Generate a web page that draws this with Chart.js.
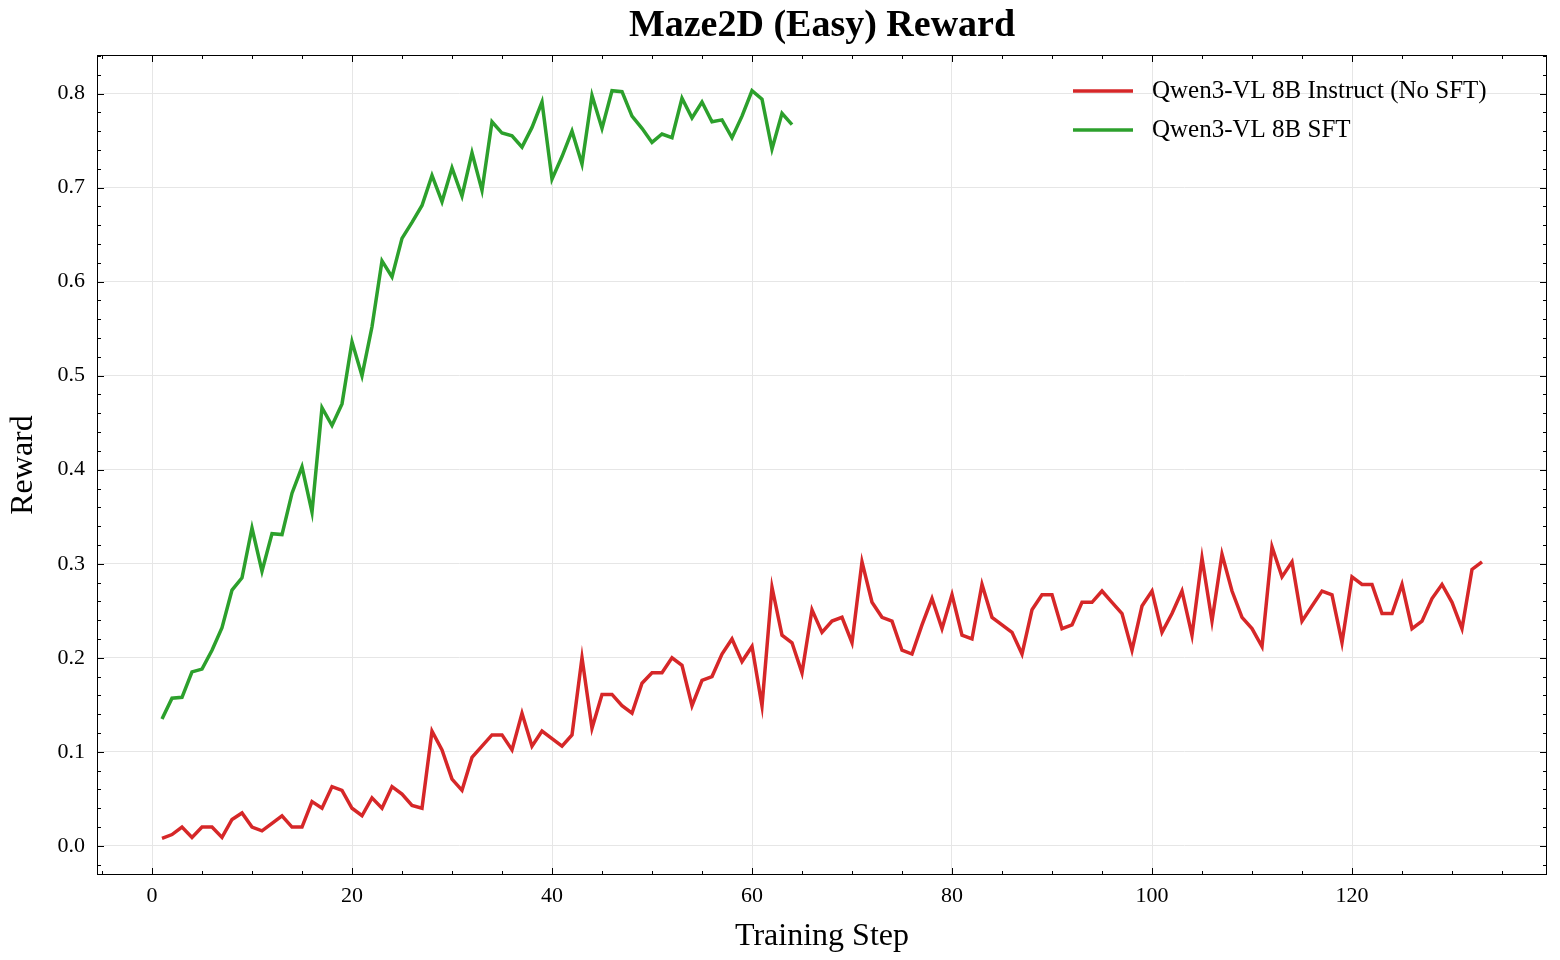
<!DOCTYPE html>
<html><head><meta charset="utf-8">
<script src="https://cdn.jsdelivr.net/npm/chart.js@4"></script>
<style>html,body{margin:0;padding:0;background:#fff}#w{width:1560px;height:960px}</style>
</head><body><div id="w"><canvas id="c"></canvas></div>
<script>
const chartTitle = "Maze2D (Easy) Reward";
const xTitle = "Training Step";
const yTitle = "Reward";
const seriesNames = ["Qwen3-VL 8B Instruct (No SFT)", "Qwen3-VL 8B SFT"];
const noSftReward = [0.008,0.012,0.020,0.009,0.020,0.020,0.009,0.028,0.035,0.020,0.016,0.024,0.032,0.020,0.020,0.047,0.040,0.063,0.059,0.040,0.032,0.051,0.040,0.063,0.055,0.043,0.040,0.122,0.102,0.071,0.059,0.094,0.106,0.118,0.118,0.102,0.141,0.106,0.122,0.114,0.106,0.118,0.200,0.125,0.161,0.161,0.149,0.141,0.173,0.184,0.184,0.200,0.192,0.149,0.176,0.180,0.204,0.220,0.196,0.212,0.149,0.275,0.224,0.216,0.184,0.251,0.227,0.239,0.243,0.216,0.302,0.259,0.243,0.239,0.208,0.204,0.235,0.263,0.231,0.267,0.224,0.220,0.278,0.243,0.235,0.227,0.204,0.251,0.267,0.267,0.231,0.235,0.259,0.259,0.271,0.259,0.247,0.208,0.255,0.271,0.227,0.247,0.271,0.224,0.306,0.239,0.310,0.271,0.243,0.231,0.212,0.318,0.286,0.302,0.239,0.255,0.271,0.267,0.216,0.286,0.278,0.278,0.247,0.247,0.278,0.231,0.239,0.263,0.278,0.259,0.231,0.294,0.302];
const sftReward = [0.135,0.157,0.158,0.185,0.188,0.208,0.232,0.272,0.285,0.338,0.292,0.332,0.331,0.375,0.403,0.355,0.466,0.447,0.470,0.536,0.500,0.552,0.622,0.605,0.646,0.663,0.681,0.713,0.685,0.721,0.691,0.737,0.697,0.770,0.758,0.755,0.743,0.764,0.791,0.709,0.733,0.760,0.725,0.798,0.763,0.803,0.802,0.776,0.763,0.748,0.757,0.753,0.795,0.774,0.791,0.770,0.772,0.753,0.776,0.803,0.794,0.741,0.779,0.767];
const xTickValues = [0,20,40,60,80,100,120];
const yTickValues = [0.0,0.1,0.2,0.3,0.4,0.5,0.6,0.7,0.8];
const colors = ["#d62728","#2ca02c"];
const serif = "'Liberation Serif','DejaVu Serif',serif";

const toPts = arr => arr.map((v,i)=>({x:i+1,y:v}));

const decor = {
  id:'decor',
  afterDraw(ch){
    const c=ch.ctx, a=ch.chartArea, xs=ch.scales.x, ys=ch.scales.y;
    c.save();
    c.strokeStyle='#000'; c.lineWidth=1;
    c.strokeRect(a.left+0.5,a.top+0.5,a.right-a.left-1,a.bottom-a.top-1);
    c.beginPath();
    for(let v=-5;v<=139;v+=5){
      const p=Math.round(xs.getPixelForValue(v))+0.5, L=(v%20===0)?7:4;
      c.moveTo(p,a.bottom);c.lineTo(p,a.bottom-L);
      c.moveTo(p,a.top);c.lineTo(p,a.top+L);
    }
    for(let k=-1;k<=42;k++){
      const v=k*0.02; if(v<ys.min||v>ys.max) continue;
      const p=Math.round(ys.getPixelForValue(v))+0.5, L=(k%5===0)?7:4;
      c.moveTo(a.left,p);c.lineTo(a.left+L,p);
      c.moveTo(a.right,p);c.lineTo(a.right-L,p);
    }
    c.stroke();
    c.fillStyle='#000'; c.font='bold 38px '+serif; c.textAlign='center'; c.textBaseline='middle';
    c.fillText(chartTitle,(a.left+a.right)/2,26);
    c.font='25px '+serif; c.textAlign='left';
    seriesNames.forEach((n,i)=>{
      const y=91+i*39;
      c.strokeStyle=colors[i]; c.lineWidth=3.5;
      c.beginPath(); c.moveTo(1073,y); c.lineTo(1133,y); c.stroke();
      c.fillStyle='#000'; c.fillText(n,1152,y);
    });
    c.restore();
  }
};

new Chart(document.getElementById('c'),{
  type:'line',
  data:{datasets:[
    {label:seriesNames[0],data:toPts(noSftReward),borderColor:colors[0],borderWidth:3.5,pointRadius:0,tension:0,fill:false},
    {label:seriesNames[1],data:toPts(sftReward),borderColor:colors[1],borderWidth:3.5,pointRadius:0,tension:0,fill:false}
  ]},
  options:{
    responsive:true,maintainAspectRatio:false,animation:false,devicePixelRatio:1,
    layout:{padding:{top:55,right:13,left:0,bottom:0}},
    plugins:{legend:{display:false},title:{display:false},tooltip:{enabled:false}},
    scales:{
      x:{type:'linear',min:-5.5,max:139.5,
        afterBuildTicks(s){s.ticks=xTickValues.map(v=>({value:v}));},
        afterFit(s){s.height=85;},
        grid:{color:'#e6e6e6',lineWidth:1,drawTicks:false},border:{display:false},
        ticks:{padding:8,font:{family:serif,size:22},color:'#000',maxRotation:0,callback:v=>String(v)},
        title:{display:true,text:xTitle,font:{family:serif,size:32},color:'#000',padding:{top:4}}
      },
      y:{type:'linear',min:-0.031,max:0.841,
        afterBuildTicks(s){s.ticks=yTickValues.map(v=>({value:v}));},
        afterFit(s){s.width=97;},
        grid:{color:'#e6e6e6',lineWidth:1,drawTicks:false},border:{display:false},
        ticks:{padding:12,font:{family:serif,size:22},color:'#000',callback:v=>Number(v).toFixed(1)},
        title:{display:true,text:yTitle,font:{family:serif,size:32},color:'#000',padding:{bottom:4}}
      }
    }
  },
  plugins:[decor]
});
</script></body></html>
